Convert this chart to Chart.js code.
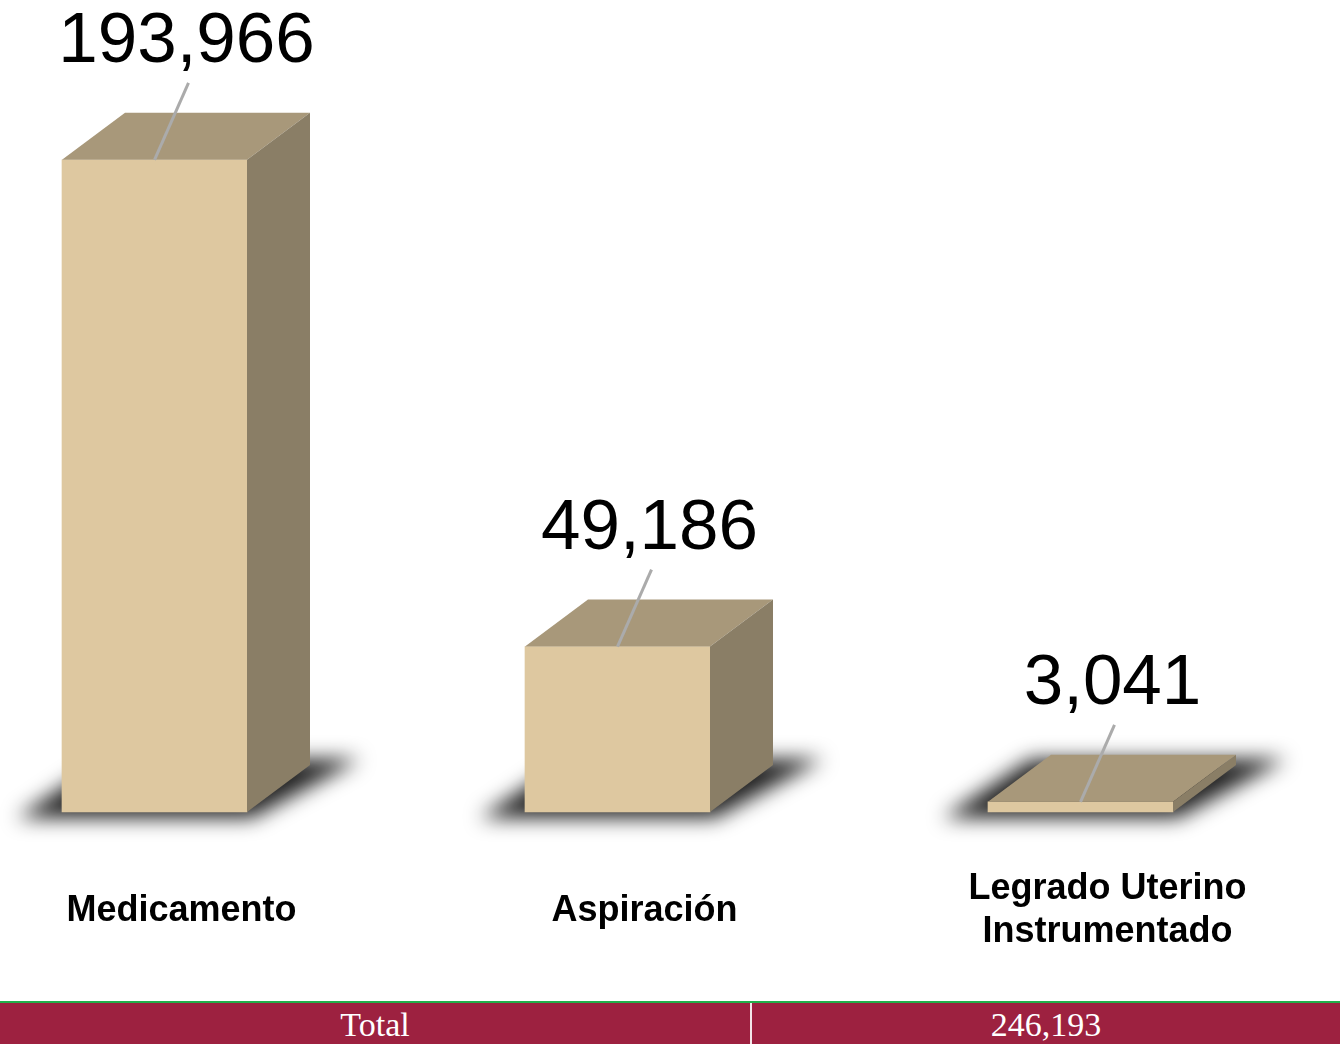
<!DOCTYPE html>
<html>
<head>
<meta charset="utf-8">
<script src="https://cdn.jsdelivr.net/npm/chart.js@4.4.0/dist/chart.umd.min.js"></script>
<style>
  body { margin: 0; background: #fff; width: 1343px; height: 1044px; overflow: hidden; }
  #wrap { position: relative; width: 1343px; height: 1001px; }
  .band { position: absolute; top: 1001px; left: 0; width: 1340px; height: 43px;
          border-top: 2px solid #22b04b; background: #9d2140; display: flex; }
  .band div { color: #fff; font-family: "Liberation Serif", serif; font-size: 34px;
              text-align: center; line-height: 44px; }
  .band .left { width: 750px; border-right: 2px solid #f4e6ea; }
  .band .right { flex: 1; }
</style>
</head>
<body>
<div id="wrap"><canvas id="chart" width="1343" height="1001"></canvas></div>
<div class="band"><div class="left">Total</div><div class="right">246,193</div></div>
<script>
// data
const categories = ["Medicamento", "Aspiración", ["Legrado Uterino", "Instrumentado"]];
const values = [193966, 49186, 3041];
const totalLabel = "246,193";

const FRONT = "#dec8a0";
const TOP = "#a8987a";
const SIDE = "#8a7e66";
const DX = 63, DY = 47;

const cube3d = {
  id: "cube3d",
  beforeDatasetsDraw(chart) {
    const ctx = chart.ctx;
    chart.getDatasetMeta(0).data.forEach(bar => {
      const l = bar.x - bar.width / 2, r = bar.x + bar.width / 2, b = bar.base;
      ctx.save();
      ctx.filter = "blur(10px)";
      ctx.fillStyle = "rgba(10,10,10,0.9)";
      ctx.beginPath();
      ctx.moveTo(l - 45, b + 6);
      ctx.lineTo(r + 5, b + 6);
      ctx.lineTo(r + DX + 50, b - DY - 6);
      ctx.lineTo(l + DX - 20, b - DY - 6);
      ctx.closePath();
      ctx.fill();
      ctx.restore();
    });
  },
  afterDatasetsDraw(chart) {
    const ctx = chart.ctx;
    chart.getDatasetMeta(0).data.forEach((bar, i) => {
      const l = bar.x - bar.width / 2, r = bar.x + bar.width / 2, t = bar.y, b = bar.base;
      ctx.save();
      // top face
      ctx.fillStyle = TOP;
      ctx.beginPath();
      ctx.moveTo(l, t); ctx.lineTo(r, t); ctx.lineTo(r + DX, t - DY); ctx.lineTo(l + DX, t - DY);
      ctx.closePath(); ctx.fill();
      // side face
      ctx.fillStyle = SIDE;
      ctx.beginPath();
      ctx.moveTo(r, t); ctx.lineTo(r + DX, t - DY); ctx.lineTo(r + DX, b - DY); ctx.lineTo(r, b);
      ctx.closePath(); ctx.fill();
      // leader line
      ctx.strokeStyle = "#ababab";
      ctx.lineWidth = 3;
      ctx.beginPath();
      ctx.moveTo(bar.x + 34, t - 77);
      ctx.lineTo(bar.x, t);
      ctx.stroke();
      // value label
      ctx.fillStyle = "#000";
      ctx.font = "71px 'Liberation Sans', Arial, sans-serif";
      ctx.textAlign = "center";
      ctx.textBaseline = "alphabetic";
      ctx.fillText(values[i].toLocaleString("en-US"), bar.x + 32, t - 98);
      ctx.restore();
    });
  },
  afterDraw(chart) {
    const ctx = chart.ctx;
    const xs = chart.scales.x;
    ctx.save();
    ctx.fillStyle = "#000";
    ctx.font = "bold 36px 'Liberation Sans', Arial, sans-serif";
    ctx.textAlign = "center";
    ctx.textBaseline = "middle";
    categories.forEach((c, i) => {
      const x = xs.getPixelForValue(i) + 27;
      const lines = Array.isArray(c) ? c : [c];
      lines.forEach((ln, j) => {
        ctx.fillText(ln, x, 911 + (j - (lines.length - 1) / 2) * 43);
      });
    });
    ctx.restore();
  }
};

new Chart(document.getElementById("chart"), {
  type: "bar",
  data: {
    labels: categories,
    datasets: [{
      data: values,
      backgroundColor: FRONT,
      barThickness: 185,
      clip: false
    }]
  },
  options: {
    responsive: false,
    animation: false,
    layout: { padding: { left: 154.5, right: 262.5, top: 5, bottom: 189 } },
    scales: {
      x: { display: false, offset: false },
      y: { display: false, min: 0, max: 240000 }
    },
    plugins: { legend: { display: false }, tooltip: { enabled: false } }
  },
  plugins: [cube3d]
});
</script>
</body>
</html>
